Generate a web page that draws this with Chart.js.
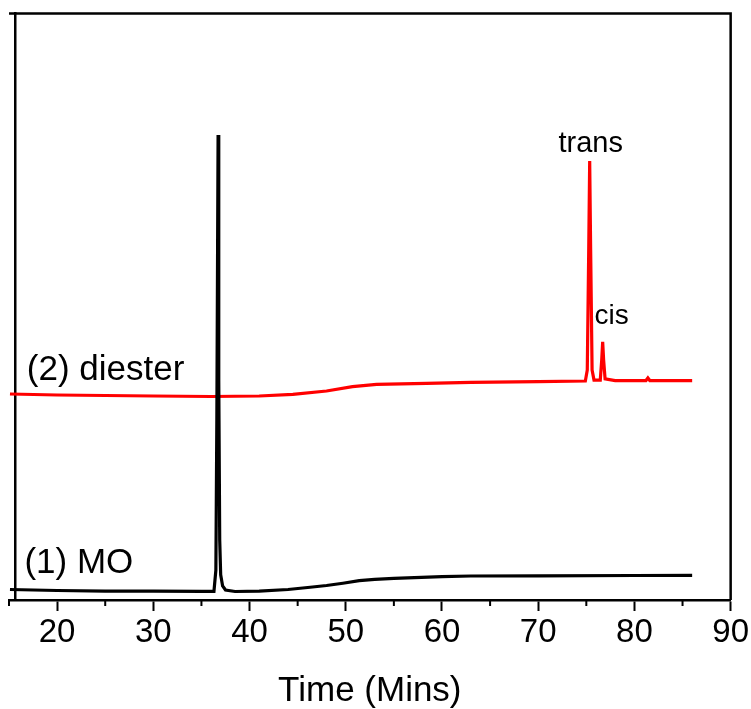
<!DOCTYPE html>
<html>
<head>
<meta charset="utf-8">
<script src="https://cdn.jsdelivr.net/npm/chart.js@4/dist/chart.umd.min.js"></script>
<style>
  body { margin: 0; background: #fff; }
  #wrap { width: 751px; height: 709px; }
</style>
</head>
<body>
<div id="wrap"><canvas id="chartCanvas" width="751" height="709"></canvas></div>
<script>
// (1) MO trace
var timeMO = [15.1, 20, 25, 30, 35, 36.3, 36.5, 36.6, 36.73, 36.8, 36.9, 37.0, 37.2, 37.5, 38.5, 41, 44, 46.3, 48, 49.7, 51.4, 53, 55, 60, 63, 70, 80, 86];
var signalMO = [1.79, 1.62, 1.53, 1.53, 1.48, 1.48, 5.1, 30.7, 79.3, 37.5, 10.2, 4.3, 2.4, 1.7, 1.45, 1.53, 1.79, 2.17, 2.47, 2.85, 3.29, 3.53, 3.70, 3.97, 4.09, 4.13, 4.18, 4.21];

// (2) diester trace
var timeDiester = [15.1, 20, 25, 30, 36, 41, 44.5, 48, 50.7, 53.2, 58.4, 63, 70, 74.9, 75.1, 75.25, 75.35, 75.45, 75.6, 75.8, 76.45, 76.6, 76.7, 76.8, 76.95, 78, 81.2, 81.4, 81.6, 86];
var signalDiester = [35.12, 34.95, 34.87, 34.78, 34.70, 34.78, 35.07, 35.64, 36.37, 36.78, 36.95, 37.12, 37.25, 37.34, 39.2, 59.7, 74.85, 59.7, 39.2, 37.5, 37.5, 40.9, 44.0, 40.9, 37.7, 37.42, 37.42, 37.85, 37.42, 37.42];

// axis
var xMin = 15, xMax = 90, xStep = 5;
var yMin = 0, yMax = 100;

// text labels placed in data units
var labelText = ['(1) MO', '(2) diester', 'trans', 'cis'];
var labelX = [16.6, 16.85, 75.45, 75.85];
var labelY = [4.6, 37.5, 76.4, 47.06];
var labelSize = [35, 35, 29, 28];
var labelAlign = ['left', 'left', 'center', 'left'];

var FONT = "'Liberation Sans', Arial, sans-serif";

function toPoints(xs, ys) {
  return xs.map(function (x, i) { return { x: x, y: ys[i] }; });
}

var framePlugin = {
  id: 'frame',
  afterDraw: function (chart) {
    var ctx = chart.ctx;
    var area = chart.chartArea;
    var xs = chart.scales.x;
    ctx.save();
    ctx.strokeStyle = '#000';
    ctx.lineWidth = 2.5;
    ctx.beginPath();
    ctx.moveTo(area.left, area.top);
    ctx.lineTo(area.right, area.top);
    ctx.lineTo(area.right, area.bottom);
    ctx.stroke();
    // minor ticks
    ctx.lineWidth = 2;
    xs.ticks.forEach(function (t) {
      if (t.value % 10 !== 0) {
        var px = xs.getPixelForValue(t.value);
        ctx.beginPath();
        ctx.moveTo(px, area.bottom);
        ctx.lineTo(px, area.bottom + 6);
        ctx.stroke();
      }
    });
    // text labels
    ctx.fillStyle = '#000';
    ctx.textBaseline = 'alphabetic';
    labelText.forEach(function (txt, i) {
      ctx.font = labelSize[i] + 'px ' + FONT;
      ctx.textAlign = labelAlign[i];
      ctx.fillText(txt, xs.getPixelForValue(labelX[i]), chart.scales.y.getPixelForValue(labelY[i]));
    });
    ctx.restore();
  }
};

var chartCanvas = document.getElementById('chartCanvas');
var chartObj = new Chart(chartCanvas, {
  type: 'line',
  data: {
    datasets: [
      {
        label: '(1) MO',
        data: toPoints(timeMO, signalMO),
        borderColor: '#000000',
        borderWidth: 3.2,
        pointRadius: 0,
        tension: 0
      },
      {
        label: '(2) diester',
        data: toPoints(timeDiester, signalDiester),
        borderColor: '#ff0000',
        borderWidth: 3.2,
        pointRadius: 0,
        tension: 0
      }
    ]
  },
  options: {
    responsive: false,
    animation: false,
    layout: { padding: { left: 9, right: 20, top: 13.5, bottom: 0 } },
    plugins: {
      legend: { display: false },
      tooltip: { enabled: false }
    },
    scales: {
      x: {
        type: 'linear',
        min: xMin,
        max: xMax,
        afterFit: function (scale) { scale.height = 109; },
        ticks: {
          stepSize: xStep,
          autoSkip: false,
          maxRotation: 0,
          padding: 2,
          color: '#000',
          font: { family: FONT, size: 33 },
          callback: function (v) { return v % 10 === 0 ? v : ''; }
        },
        grid: {
          drawOnChartArea: false,
          tickLength: 11,
          tickWidth: 2,
          tickColor: function (c) { return c.tick && c.tick.value % 10 === 0 ? '#000' : 'rgba(0,0,0,0)'; }
        },
        border: { color: '#000', width: 2.5 },
        title: {
          display: true,
          text: 'Time (Mins)',
          color: '#000',
          font: { family: FONT, size: 35, lineHeight: 1 },
          padding: 0
        }
      },
      y: {
        type: 'linear',
        min: yMin,
        max: yMax,
        position: { x: 15.7 },
        ticks: { display: false },
        grid: { display: false },
        border: { color: '#000', width: 2.5 }
      }
    }
  },
  plugins: [framePlugin]
});
</script>
</body>
</html>
